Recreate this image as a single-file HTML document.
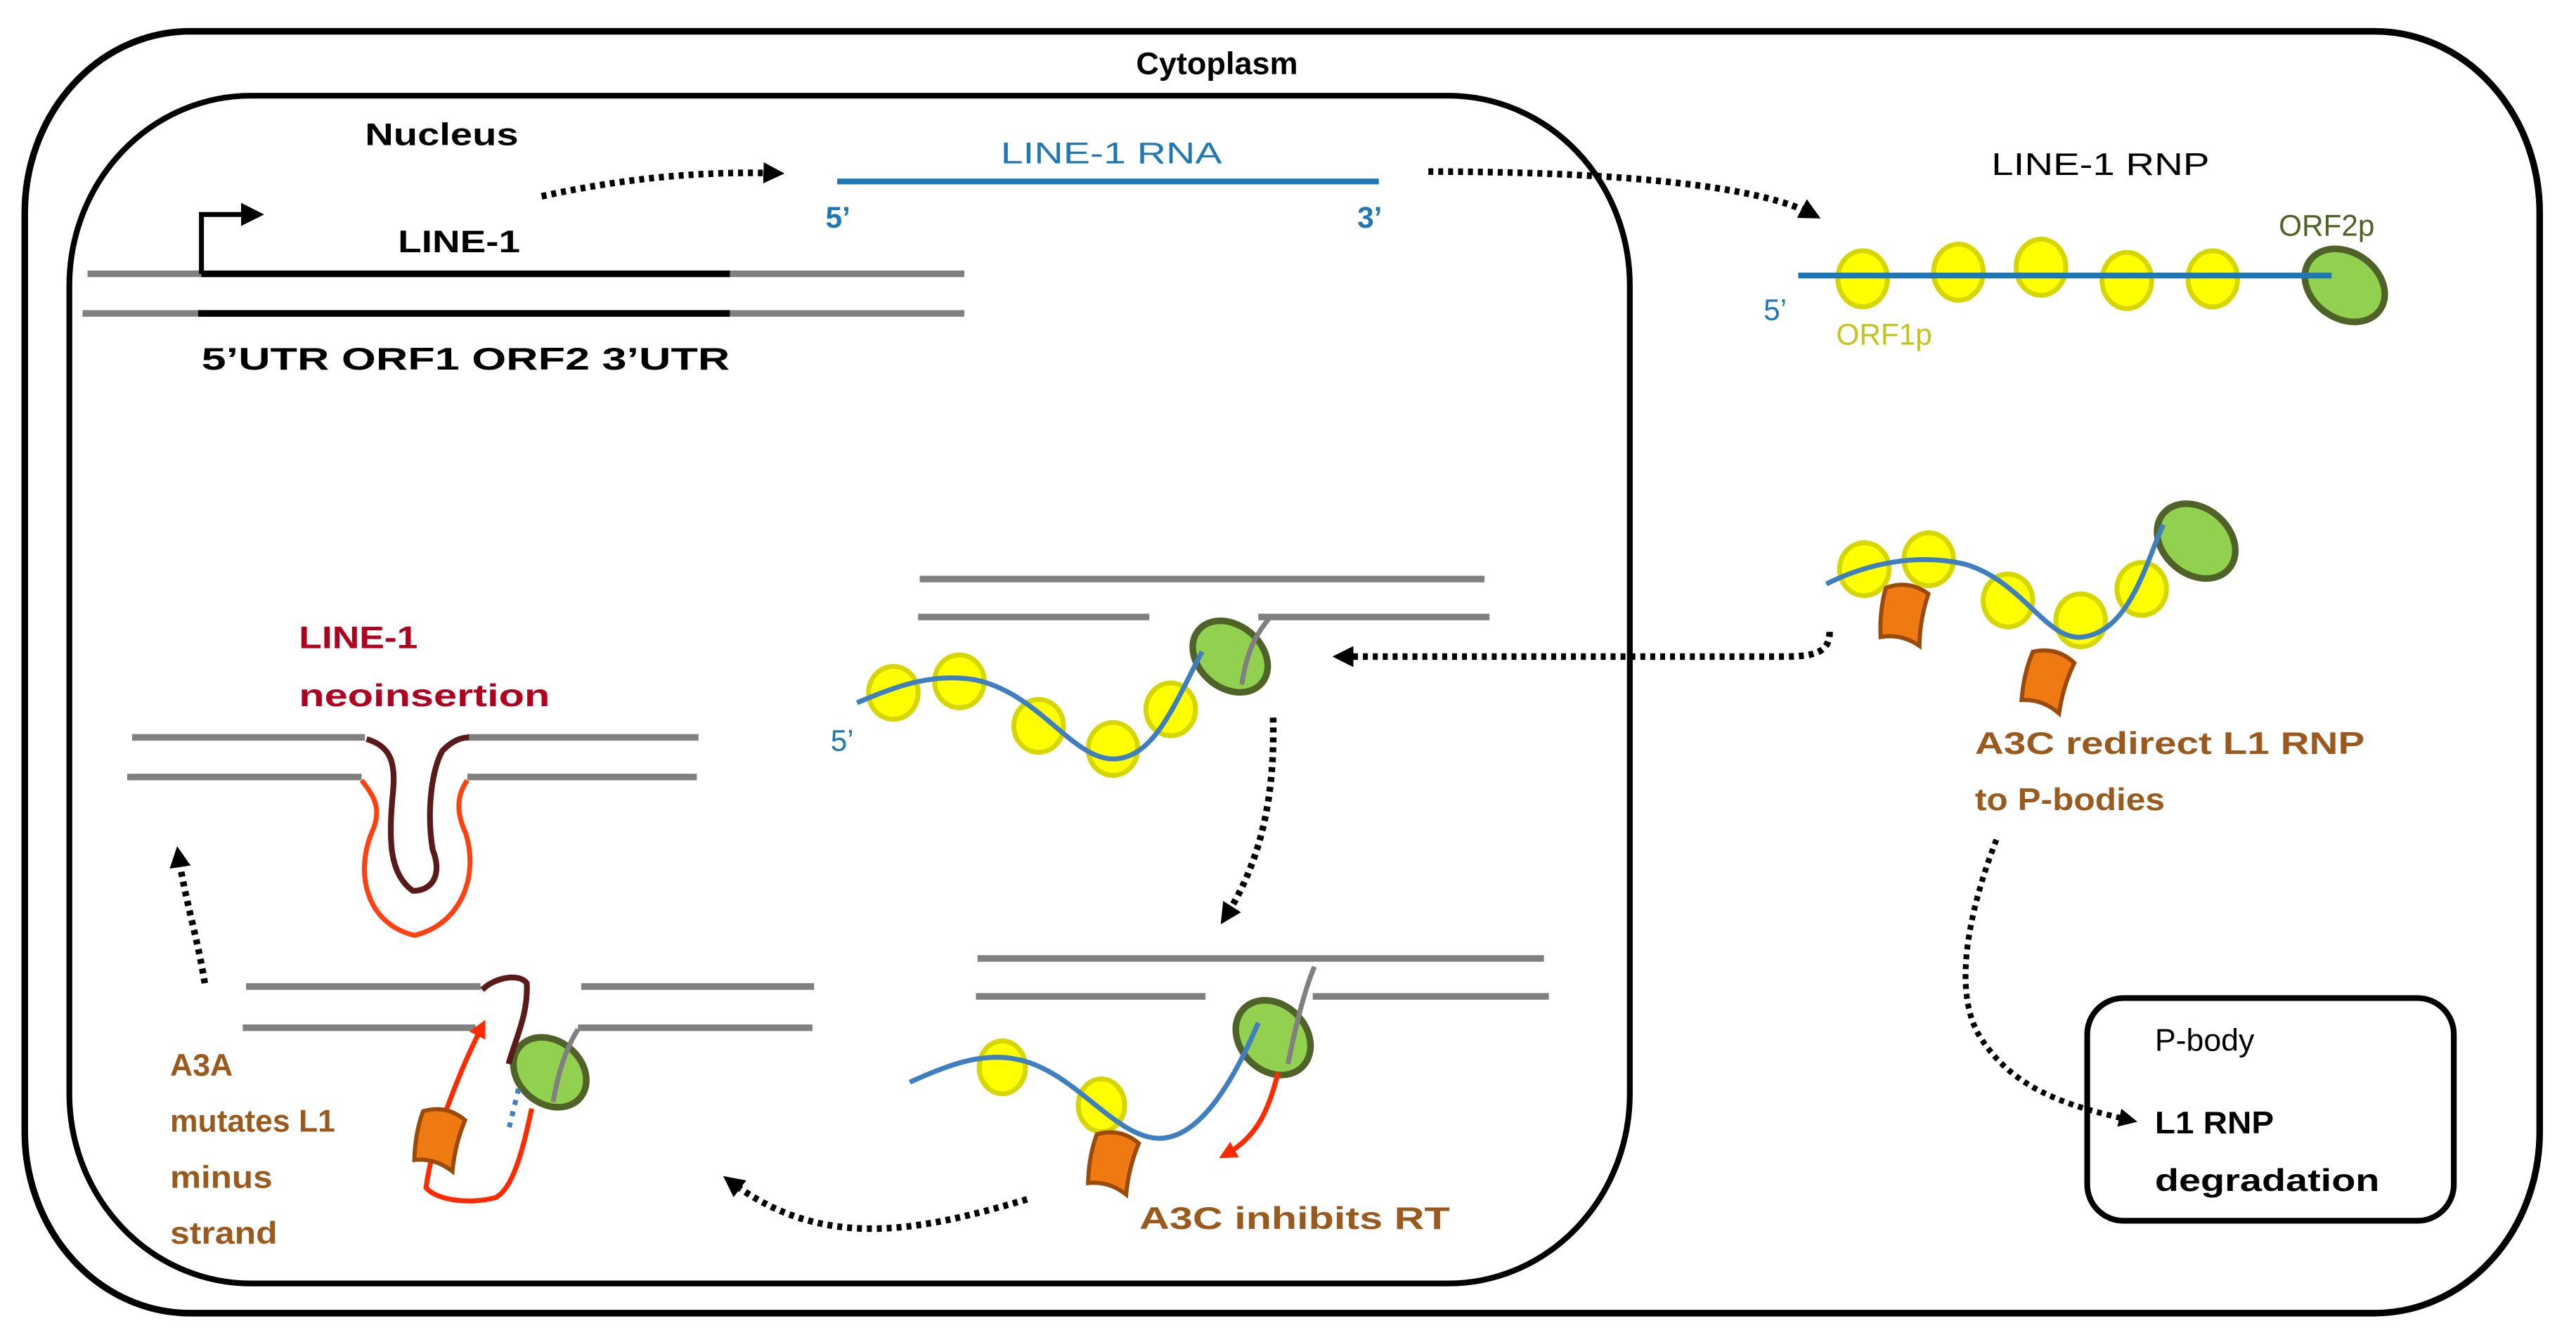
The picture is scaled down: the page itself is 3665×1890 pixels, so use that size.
<!DOCTYPE html>
<html><head><meta charset="utf-8"><style>html,body{margin:0;padding:0;background:#fff}svg{display:block}</style></head>
<body>
<svg xmlns="http://www.w3.org/2000/svg" width="3665" height="1890" viewBox="0 0 1560 805" preserveAspectRatio="none" font-family="'Liberation Sans', sans-serif" font-weight="bold">
<defs>
<marker id="ah" viewBox="0 0 10 10" refX="6" refY="5" markerWidth="3.2" markerHeight="3.2" orient="auto" markerUnits="strokeWidth"><path d="M0,0 L10,5 L0,10 Z" fill="#000"/></marker>
<marker id="ar" viewBox="0 0 10 10" refX="6" refY="5" markerWidth="3.6" markerHeight="3.6" orient="auto" markerUnits="strokeWidth"><path d="M0,0 L10,5 L0,10 Z" fill="#ff2a00"/></marker>
<g id="orb"><path d="M-13,-14 Q0,-21 13,-14 Q10,2 12,18 Q0,12 -12,16 Q-15,0 -13,-14 Z" fill="#f07a12" stroke="#9a4a0a" stroke-width="2.5"/></g>
</defs>
<rect width="1560" height="805" fill="#fff"/>
<rect x="15" y="19" width="1523" height="777" rx="100" ry="110" fill="none" stroke="#000" stroke-width="4"/>
<rect x="42" y="58" width="945" height="720" rx="110" ry="115" fill="none" stroke="#000" stroke-width="3.5"/>
<text x="737" y="45" font-size="19" text-anchor="middle" textLength="98" lengthAdjust="spacingAndGlyphs">Cytoplasm</text>
<text x="221" y="88" font-size="19" textLength="93" lengthAdjust="spacingAndGlyphs">Nucleus</text>

<line x1="53" y1="166" x2="584" y2="166" stroke="#808080" stroke-width="4"/>
<line x1="50" y1="190" x2="584" y2="190" stroke="#808080" stroke-width="4"/>
<line x1="122" y1="166" x2="442" y2="166" stroke="#000" stroke-width="4"/>
<line x1="120" y1="190" x2="442" y2="190" stroke="#000" stroke-width="4"/>
<path d="M122,166 V130 H148" fill="none" stroke="#000" stroke-width="3"/>
<path d="M146,123 L160,130 L146,137 Z" fill="#000"/>
<text x="241" y="153" font-size="19" textLength="74" lengthAdjust="spacingAndGlyphs">LINE-1</text>
<text x="122" y="224" font-size="19" textLength="320" lengthAdjust="spacingAndGlyphs">5’UTR  ORF1   ORF2  3’UTR</text>

<path d="M328,119 Q400,103 470,105" fill="none" stroke="#000" stroke-width="4" stroke-dasharray="3 3" marker-end="url(#ah)"/>

<line x1="507" y1="110" x2="835" y2="110" stroke="#1f77b4" stroke-width="3.5"/>
<text x="606" y="99" font-size="18" fill="#1f77b4" font-weight="normal" textLength="134" lengthAdjust="spacingAndGlyphs">LINE-1 RNA</text>
<text x="500" y="138" font-size="18" fill="#1f77b4">5’</text>
<text x="822" y="138" font-size="18" fill="#1f77b4">3’</text>

<path d="M865,104 C960,104 1060,110 1098,130" fill="none" stroke="#000" stroke-width="4" stroke-dasharray="3 3" marker-end="url(#ah)"/>

<text x="1206" y="106" font-size="19" font-weight="normal" textLength="132" lengthAdjust="spacingAndGlyphs">LINE-1 RNP</text>
<g fill="#ffff00" stroke="#d6d600" stroke-width="3">
<ellipse cx="1128" cy="169" rx="15" ry="17"/>
<ellipse cx="1186" cy="165" rx="15" ry="17"/>
<ellipse cx="1236" cy="162" rx="15" ry="17"/>
<ellipse cx="1288" cy="170" rx="15" ry="17"/>
<ellipse cx="1340" cy="169" rx="15" ry="17"/>
</g>
<ellipse cx="1420" cy="173" rx="26" ry="20" transform="rotate(35 1420 173)" fill="#92d050" stroke="#4f6228" stroke-width="4"/>
<line x1="1089" y1="167" x2="1412" y2="167" stroke="#1f77b4" stroke-width="3.5"/>
<text x="1380" y="143" font-size="18" fill="#4f6228" font-weight="normal">ORF2p</text>
<text x="1112" y="209" font-size="18" fill="#c4c41a" font-weight="normal">ORF1p</text>
<text x="1068" y="194" font-size="18" fill="#1f77b4" font-weight="normal">5’</text>

<g fill="#ffff00" stroke="#d6d600" stroke-width="3">
<ellipse cx="1129" cy="345" rx="15" ry="16"/>
<ellipse cx="1168" cy="339" rx="15" ry="16"/>
<ellipse cx="1216" cy="364" rx="15" ry="16"/>
<ellipse cx="1260" cy="376" rx="15" ry="16"/>
<ellipse cx="1297" cy="357" rx="15" ry="16"/>
</g>
<ellipse cx="1330" cy="328" rx="26" ry="20" transform="rotate(40 1330 328)" fill="#92d050" stroke="#4f6228" stroke-width="4"/>
<path d="M1106,354 C1130,342 1160,335 1190,342 C1225,352 1240,390 1262,386 C1290,382 1300,340 1310,318" fill="none" stroke="#3f7fbf" stroke-width="3"/>
<use href="#orb" transform="translate(1153,372) rotate(8)"/>
<use href="#orb" transform="translate(1240,412) rotate(15)"/>
<text x="1196" y="457" font-size="19" fill="#9a5a1e" textLength="236" lengthAdjust="spacingAndGlyphs">A3C redirect L1 RNP</text>
<text x="1196" y="491" font-size="19" fill="#9a5a1e" textLength="115" lengthAdjust="spacingAndGlyphs">to P-bodies</text>

<path d="M1108,383 C1108,395 1100,398 1080,398 L812,398" fill="none" stroke="#000" stroke-width="4" stroke-dasharray="3 3" marker-end="url(#ah)"/>

<path d="M1209,509 C1195,545 1180,600 1200,630 C1220,660 1250,670 1290,679" fill="none" stroke="#000" stroke-width="3.5" stroke-dasharray="3 3" marker-end="url(#ah)"/>

<rect x="1264" y="605" width="222" height="135" rx="22" ry="22" fill="none" stroke="#000" stroke-width="3.5"/>
<text x="1305" y="637" font-size="19" font-weight="normal">P-body</text>
<text x="1305" y="687" font-size="19" textLength="72" lengthAdjust="spacingAndGlyphs">L1 RNP</text>
<text x="1305" y="722" font-size="19" textLength="136" lengthAdjust="spacingAndGlyphs">degradation</text>

<g stroke="#808080" stroke-width="4">
<line x1="557" y1="351" x2="899" y2="351"/>
<line x1="556" y1="374" x2="696" y2="374"/>
<line x1="762" y1="374" x2="902" y2="374"/>
</g>
<g fill="#ffff00" stroke="#d6d600" stroke-width="3">
<ellipse cx="541" cy="420" rx="15" ry="16"/>
<ellipse cx="581" cy="413" rx="15" ry="16"/>
<ellipse cx="629" cy="440" rx="15" ry="16"/>
<ellipse cx="674" cy="454" rx="15" ry="16"/>
<ellipse cx="709" cy="430" rx="15" ry="16"/>
</g>
<ellipse cx="745" cy="398" rx="25" ry="19" transform="rotate(40 745 398)" fill="#92d050" stroke="#4f6228" stroke-width="4"/>
<path d="M519,426 C545,415 565,408 590,412 C630,420 650,462 676,460 C700,458 712,425 728,395" fill="none" stroke="#3f7fbf" stroke-width="3"/>
<path d="M752,415 C755,395 760,385 770,373" fill="none" stroke="#808080" stroke-width="3"/>
<text x="503" y="455" font-size="18" fill="#1f77b4" font-weight="normal">5’</text>

<path d="M771,435 C772,480 765,520 742,556" fill="none" stroke="#000" stroke-width="4" stroke-dasharray="3 3" marker-end="url(#ah)"/>

<g stroke="#808080" stroke-width="4">
<line x1="592" y1="581" x2="935" y2="581"/>
<line x1="591" y1="604" x2="730" y2="604"/>
<line x1="795" y1="604" x2="938" y2="604"/>
</g>
<g fill="#ffff00" stroke="#d6d600" stroke-width="3">
<ellipse cx="607" cy="647" rx="14" ry="16"/>
<ellipse cx="667" cy="670" rx="14" ry="16"/>
</g>
<ellipse cx="771" cy="629" rx="25" ry="20" transform="rotate(45 771 629)" fill="#92d050" stroke="#4f6228" stroke-width="4"/>
<path d="M551,656 C575,645 595,638 615,642 C650,648 675,690 702,690 C725,690 745,660 762,620" fill="none" stroke="#3f7fbf" stroke-width="3"/>
<path d="M774,650 C768,675 760,690 742,700" fill="none" stroke="#ff2a00" stroke-width="3" marker-end="url(#ar)"/>
<path d="M780,645 C785,620 790,600 796,586" fill="none" stroke="#808080" stroke-width="3"/>
<use href="#orb" transform="translate(674,704) rotate(12)"/>
<text x="690" y="745" font-size="19" fill="#9a5a1e" textLength="188" lengthAdjust="spacingAndGlyphs">A3C inhibits RT</text>

<path d="M622,727 C560,745 500,760 442,716" fill="none" stroke="#000" stroke-width="4" stroke-dasharray="3 3" marker-end="url(#ah)"/>

<g stroke="#808080" stroke-width="4">
<line x1="149" y1="598" x2="291" y2="598"/>
<line x1="352" y1="598" x2="493" y2="598"/>
<line x1="147" y1="623" x2="288" y2="623"/>
<line x1="350" y1="623" x2="492" y2="623"/>
</g>
<ellipse cx="333" cy="650" rx="24" ry="19" transform="rotate(40 333 650)" fill="#92d050" stroke="#4f6228" stroke-width="4"/>
<path d="M322,672 C318,690 312,720 300,726 C285,730 265,728 258,720 C262,690 278,650 292,622" fill="none" stroke="#ff2a00" stroke-width="3" marker-end="url(#ar)"/>
<path d="M292,600 C300,592 315,590 319,596 C320,615 312,630 308,645" fill="none" stroke="#5a1a1a" stroke-width="3.5"/>
<path d="M314,660 L308,685" fill="none" stroke="#3f7fbf" stroke-width="3" stroke-dasharray="3 4"/>
<path d="M335,668 C338,650 343,635 350,624" fill="none" stroke="#808080" stroke-width="3"/>
<use href="#orb" transform="translate(266,690) rotate(12)"/>
<g font-size="19" fill="#9a5a1e">
<text x="103" y="652">A3A</text>
<text x="103" y="686" textLength="100" lengthAdjust="spacingAndGlyphs">mutates L1</text>
<text x="103" y="720" textLength="62" lengthAdjust="spacingAndGlyphs">minus</text>
<text x="103" y="754" textLength="65" lengthAdjust="spacingAndGlyphs">strand</text>
</g>

<path d="M124,596 C120,570 112,545 108,518" fill="none" stroke="#000" stroke-width="4" stroke-dasharray="3 3" marker-end="url(#ah)"/>

<g stroke="#808080" stroke-width="4">
<line x1="80" y1="447" x2="221" y2="447"/>
<line x1="283" y1="447" x2="423" y2="447"/>
<line x1="77" y1="471" x2="219" y2="471"/>
<line x1="283" y1="471" x2="422" y2="471"/>
</g>
<path d="M219,473 C226,482 232,490 225,505 C215,530 222,560 251,567 C280,560 290,530 282,505 C275,490 278,480 283,473" fill="none" stroke="#ff4010" stroke-width="3"/>
<path d="M222,448 C235,452 240,460 238,480 C235,510 236,530 250,540 C262,540 268,530 262,515 C258,490 262,465 268,455 C273,450 278,447 284,447" fill="none" stroke="#5a1a1a" stroke-width="3.5"/>
<text x="181" y="393" font-size="19" fill="#b00020" textLength="72" lengthAdjust="spacingAndGlyphs">LINE-1</text>
<text x="181" y="428" font-size="19" fill="#b00020" textLength="152" lengthAdjust="spacingAndGlyphs">neoinsertion</text>
</svg>
</body></html>
